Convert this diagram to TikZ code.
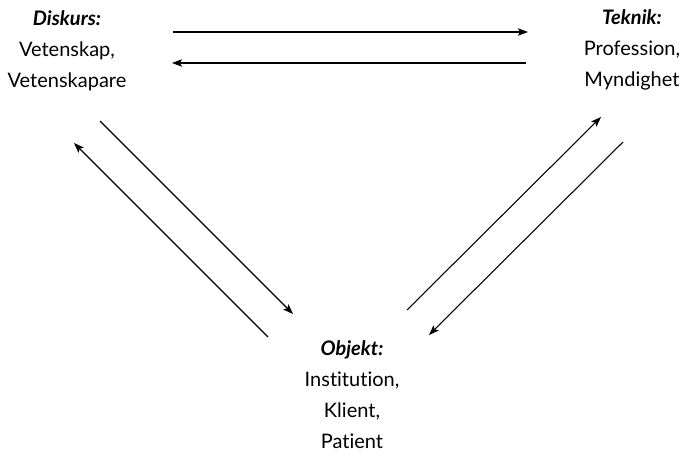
\documentclass[tikz,border=0pt]{standalone}
\usepackage{fontspec}
\setmainfont[Ligatures=NoCommon]{Lato}
\usetikzlibrary{arrows.meta}
\tikzset{
  lbl/.style={align=center, anchor=base, inner sep=0pt,
    font=\fontsize{15}{23.25}\selectfont},
  pil/.style={line width=0.8pt, -{Stealth[length=7.5pt,width=5.5pt,inset=1.5pt]}}
}
\newcommand{\rubrik}[1]{\textbf{\textit{#1}}}
\begin{document}
\begin{tikzpicture}[x=0.75pt, y=-0.75pt]
    \useasboundingbox (0,0) rectangle (680,456);
    % grupperna (ankare vid sista radens baslinje)
    \node[lbl] (diskurs) at (67,88) {\rubrik{Diskurs:}\\Vetenskap,\\Vetenskapare};
    \node[lbl] (teknik) at (632,87) {\rubrik{Teknik:}\\Profession,\\Myndighet};
    \node[lbl] (objekt) at (352,448) {\rubrik{Objekt:}\\Institution,\\Klient,\\Patient};
    % pilarnas ändpunkter
    \coordinate (dt1) at (173,32);  \coordinate (dt2) at (528,32);
    \coordinate (td1) at (526,63);  \coordinate (td2) at (172,63);
    \coordinate (do1) at (100,121); \coordinate (do2) at (293,314);
    \coordinate (od1) at (268,337); \coordinate (od2) at (74,143);
    \coordinate (ot1) at (407,310); \coordinate (ot2) at (601,117);
    \coordinate (to1) at (623,142); \coordinate (to2) at (429,335);
    \draw[pil] (dt1) -- (dt2);
    \draw[pil] (td1) -- (td2);
    \draw[pil] (do1) -- (do2);
    \draw[pil] (od1) -- (od2);
    \draw[pil] (ot1) -- (ot2);
    \draw[pil] (to1) -- (to2);
\end{tikzpicture}
\end{document}
